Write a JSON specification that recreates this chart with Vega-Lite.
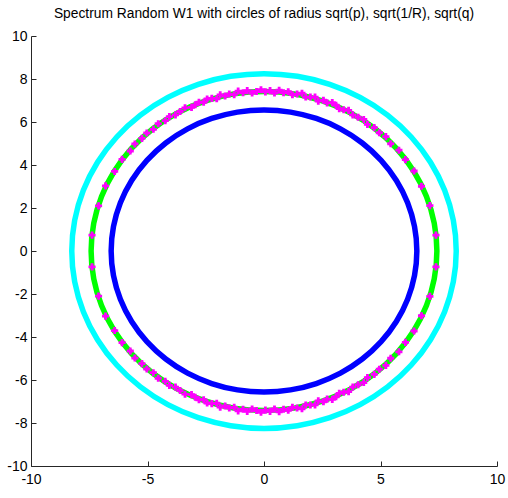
{
  "$schema": "https://vega.github.io/schema/vega-lite/v6.json",
  "width": 466,
  "height": 430,
  "autosize": "none",
  "padding": {"left": 31, "top": 36, "right": 11, "bottom": 32},
  "background": "white",
  "title": {
    "text": "Spectrum Random W1 with circles of radius sqrt(p), sqrt(1/R), sqrt(q)",
    "font": "Liberation Sans",
    "fontSize": 13.8,
    "fontWeight": "normal",
    "color": "black",
    "anchor": "middle",
    "offset": 8
  },
  "config": {
    "view": {"stroke": null},
    "axis": {
      "grid": false,
      "domainColor": "#262626",
      "tickColor": "#262626",
      "tickSize": -5,
      "labelFont": "Liberation Sans",
      "labelFontSize": 14,
      "labelColor": "black",
      "labelFlush": false,
      "labelOverlap": false,
      "labelExpr": "'' + datum.value",
      "title": null
    },
    "axisX": {"labelPadding": 11},
    "axisY": {"labelPadding": 9}
  },
  "datasets": {
    "circ": [
      {"c":"b","o":0,"x":6.56,"y":0},{"c":"b","o":1,"x":6.46,"y":1.139},{"c":"b","o":2,"x":6.164,"y":2.244},{"c":"b","o":3,"x":5.681,"y":3.28},{"c":"b","o":4,"x":5.025,"y":4.217},{"c":"b","o":5,"x":4.217,"y":5.025},{"c":"b","o":6,"x":3.28,"y":5.681},{"c":"b","o":7,"x":2.244,"y":6.164},{"c":"b","o":8,"x":1.139,"y":6.46},{"c":"b","o":9,"x":0,"y":6.56},
      {"c":"b","o":10,"x":-1.139,"y":6.46},{"c":"b","o":11,"x":-2.244,"y":6.164},{"c":"b","o":12,"x":-3.28,"y":5.681},{"c":"b","o":13,"x":-4.217,"y":5.025},{"c":"b","o":14,"x":-5.025,"y":4.217},{"c":"b","o":15,"x":-5.681,"y":3.28},{"c":"b","o":16,"x":-6.164,"y":2.244},{"c":"b","o":17,"x":-6.46,"y":1.139},{"c":"b","o":18,"x":-6.56,"y":0},
      {"c":"b","o":19,"x":-6.46,"y":-1.139},{"c":"b","o":20,"x":-6.164,"y":-2.244},{"c":"b","o":21,"x":-5.681,"y":-3.28},{"c":"b","o":22,"x":-5.025,"y":-4.217},{"c":"b","o":23,"x":-4.217,"y":-5.025},{"c":"b","o":24,"x":-3.28,"y":-5.681},{"c":"b","o":25,"x":-2.244,"y":-6.164},{"c":"b","o":26,"x":-1.139,"y":-6.46},{"c":"b","o":27,"x":0,"y":-6.56},
      {"c":"b","o":28,"x":1.139,"y":-6.46},{"c":"b","o":29,"x":2.244,"y":-6.164},{"c":"b","o":30,"x":3.28,"y":-5.681},{"c":"b","o":31,"x":4.217,"y":-5.025},{"c":"b","o":32,"x":5.025,"y":-4.217},{"c":"b","o":33,"x":5.681,"y":-3.28},{"c":"b","o":34,"x":6.164,"y":-2.244},{"c":"b","o":35,"x":6.46,"y":-1.139},

      {"c":"g","o":0,"x":7.42,"y":0},{"c":"g","o":1,"x":7.307,"y":1.288},{"c":"g","o":2,"x":6.973,"y":2.538},{"c":"g","o":3,"x":6.426,"y":3.71},{"c":"g","o":4,"x":5.684,"y":4.77},{"c":"g","o":5,"x":4.77,"y":5.684},{"c":"g","o":6,"x":3.71,"y":6.426},{"c":"g","o":7,"x":2.538,"y":6.973},{"c":"g","o":8,"x":1.288,"y":7.307},{"c":"g","o":9,"x":0,"y":7.42},
      {"c":"g","o":10,"x":-1.288,"y":7.307},{"c":"g","o":11,"x":-2.538,"y":6.973},{"c":"g","o":12,"x":-3.71,"y":6.426},{"c":"g","o":13,"x":-4.77,"y":5.684},{"c":"g","o":14,"x":-5.684,"y":4.77},{"c":"g","o":15,"x":-6.426,"y":3.71},{"c":"g","o":16,"x":-6.973,"y":2.538},{"c":"g","o":17,"x":-7.307,"y":1.288},{"c":"g","o":18,"x":-7.42,"y":0},
      {"c":"g","o":19,"x":-7.307,"y":-1.288},{"c":"g","o":20,"x":-6.973,"y":-2.538},{"c":"g","o":21,"x":-6.426,"y":-3.71},{"c":"g","o":22,"x":-5.684,"y":-4.77},{"c":"g","o":23,"x":-4.77,"y":-5.684},{"c":"g","o":24,"x":-3.71,"y":-6.426},{"c":"g","o":25,"x":-2.538,"y":-6.973},{"c":"g","o":26,"x":-1.288,"y":-7.307},{"c":"g","o":27,"x":0,"y":-7.42},
      {"c":"g","o":28,"x":1.288,"y":-7.307},{"c":"g","o":29,"x":2.538,"y":-6.973},{"c":"g","o":30,"x":3.71,"y":-6.426},{"c":"g","o":31,"x":4.77,"y":-5.684},{"c":"g","o":32,"x":5.684,"y":-4.77},{"c":"g","o":33,"x":6.426,"y":-3.71},{"c":"g","o":34,"x":6.973,"y":-2.538},{"c":"g","o":35,"x":7.307,"y":-1.288},

      {"c":"c","o":0,"x":8.25,"y":0},{"c":"c","o":1,"x":8.125,"y":1.432},{"c":"c","o":2,"x":7.753,"y":2.822},{"c":"c","o":3,"x":7.145,"y":4.125},{"c":"c","o":4,"x":6.32,"y":5.303},{"c":"c","o":5,"x":5.303,"y":6.32},{"c":"c","o":6,"x":4.125,"y":7.145},{"c":"c","o":7,"x":2.822,"y":7.753},{"c":"c","o":8,"x":1.432,"y":8.125},{"c":"c","o":9,"x":0,"y":8.25},
      {"c":"c","o":10,"x":-1.432,"y":8.125},{"c":"c","o":11,"x":-2.822,"y":7.753},{"c":"c","o":12,"x":-4.125,"y":7.145},{"c":"c","o":13,"x":-5.303,"y":6.32},{"c":"c","o":14,"x":-6.32,"y":5.303},{"c":"c","o":15,"x":-7.145,"y":4.125},{"c":"c","o":16,"x":-7.753,"y":2.822},{"c":"c","o":17,"x":-8.125,"y":1.432},{"c":"c","o":18,"x":-8.25,"y":0},
      {"c":"c","o":19,"x":-8.125,"y":-1.432},{"c":"c","o":20,"x":-7.753,"y":-2.822},{"c":"c","o":21,"x":-7.145,"y":-4.125},{"c":"c","o":22,"x":-6.32,"y":-5.303},{"c":"c","o":23,"x":-5.303,"y":-6.32},{"c":"c","o":24,"x":-4.125,"y":-7.145},{"c":"c","o":25,"x":-2.822,"y":-7.753},{"c":"c","o":26,"x":-1.432,"y":-8.125},{"c":"c","o":27,"x":0,"y":-8.25},
      {"c":"c","o":28,"x":1.432,"y":-8.125},{"c":"c","o":29,"x":2.822,"y":-7.753},{"c":"c","o":30,"x":4.125,"y":-7.145},{"c":"c","o":31,"x":5.303,"y":-6.32},{"c":"c","o":32,"x":6.32,"y":-5.303},{"c":"c","o":33,"x":7.145,"y":-4.125},{"c":"c","o":34,"x":7.753,"y":-2.822},{"c":"c","o":35,"x":8.125,"y":-1.432}
    ],
    "eig": [
      {"x":7.38,"y":0.74},{"x":7.12,"y":2.11},{"x":6.76,"y":3.01},{"x":6.44,"y":3.72},{"x":6.07,"y":4.25},{"x":5.79,"y":4.69},{"x":5.44,"y":4.99},{"x":5.23,"y":5.32},{"x":4.95,"y":5.5},{"x":4.73,"y":5.74},
      {"x":4.44,"y":5.89},{"x":4.28,"y":6.12},{"x":4.04,"y":6.22},{"x":3.81,"y":6.33},{"x":3.63,"y":6.54},{"x":3.42,"y":6.57},{"x":3.23,"y":6.62},{"x":3.09,"y":6.78},{"x":2.93,"y":6.9},{"x":2.71,"y":6.89},
      {"x":2.55,"y":7.01},{"x":2.33,"y":6.97},{"x":2.19,"y":7.16},{"x":1.99,"y":7.16},{"x":1.79,"y":7.16},{"x":1.63,"y":7.34},{"x":1.42,"y":7.3},{"x":1.22,"y":7.27},{"x":1.04,"y":7.41},{"x":0.84,"y":7.36},
      {"x":0.65,"y":7.48},{"x":0.45,"y":7.35},{"x":0.26,"y":7.46},{"x":0.06,"y":7.4},{"x":-0.13,"y":7.5},{"x":-0.32,"y":7.42},{"x":-0.51,"y":7.35},{"x":-0.72,"y":7.46},{"x":-0.9,"y":7.36},{"x":-1.11,"y":7.44},
      {"x":-1.28,"y":7.27},{"x":-1.49,"y":7.3},{"x":-1.67,"y":7.21},{"x":-1.88,"y":7.26},{"x":-2.03,"y":7.08},{"x":-2.24,"y":7.1},{"x":-2.44,"y":7.07},{"x":-2.59,"y":6.92},{"x":-2.79,"y":6.92},{"x":-2.95,"y":6.8},
      {"x":-3.11,"y":6.68},{"x":-3.39,"y":6.66},{"x":-3.6,"y":6.49},{"x":-3.8,"y":6.33},{"x":-4.06,"y":6.25},{"x":-4.24,"y":6.06},{"x":-4.54,"y":5.92},{"x":-4.75,"y":5.66},{"x":-5.03,"y":5.49},{"x":-5.24,"y":5.24},
      {"x":-5.54,"y":4.98},{"x":-5.74,"y":4.65},{"x":-6.09,"y":4.26},{"x":-6.41,"y":3.7},{"x":-6.8,"y":3.03},{"x":-7.1,"y":2.1},{"x":-7.38,"y":0.74},
      {"x":7.38,"y":-0.74},{"x":7.12,"y":-2.11},{"x":6.76,"y":-3.01},{"x":6.44,"y":-3.72},{"x":6.07,"y":-4.25},{"x":5.79,"y":-4.69},{"x":5.44,"y":-4.99},{"x":5.23,"y":-5.32},{"x":4.95,"y":-5.5},{"x":4.73,"y":-5.74},
      {"x":4.44,"y":-5.89},{"x":4.28,"y":-6.12},{"x":4.04,"y":-6.22},{"x":3.81,"y":-6.33},{"x":3.63,"y":-6.54},{"x":3.42,"y":-6.57},{"x":3.23,"y":-6.62},{"x":3.09,"y":-6.78},{"x":2.93,"y":-6.9},{"x":2.71,"y":-6.89},
      {"x":2.55,"y":-7.01},{"x":2.33,"y":-6.97},{"x":2.19,"y":-7.16},{"x":1.99,"y":-7.16},{"x":1.79,"y":-7.16},{"x":1.63,"y":-7.34},{"x":1.42,"y":-7.3},{"x":1.22,"y":-7.27},{"x":1.04,"y":-7.41},{"x":0.84,"y":-7.36},
      {"x":0.65,"y":-7.48},{"x":0.45,"y":-7.35},{"x":0.26,"y":-7.46},{"x":0.06,"y":-7.4},{"x":-0.13,"y":-7.5},{"x":-0.32,"y":-7.42},{"x":-0.51,"y":-7.35},{"x":-0.72,"y":-7.46},{"x":-0.9,"y":-7.36},{"x":-1.11,"y":-7.44},
      {"x":-1.28,"y":-7.27},{"x":-1.49,"y":-7.3},{"x":-1.67,"y":-7.21},{"x":-1.88,"y":-7.26},{"x":-2.03,"y":-7.08},{"x":-2.24,"y":-7.1},{"x":-2.44,"y":-7.07},{"x":-2.59,"y":-6.92},{"x":-2.79,"y":-6.92},{"x":-2.95,"y":-6.8},
      {"x":-3.11,"y":-6.68},{"x":-3.39,"y":-6.66},{"x":-3.6,"y":-6.49},{"x":-3.8,"y":-6.33},{"x":-4.06,"y":-6.25},{"x":-4.24,"y":-6.06},{"x":-4.54,"y":-5.92},{"x":-4.75,"y":-5.66},{"x":-5.03,"y":-5.49},{"x":-5.24,"y":-5.24},
      {"x":-5.54,"y":-4.98},{"x":-5.74,"y":-4.65},{"x":-6.09,"y":-4.26},{"x":-6.41,"y":-3.7},{"x":-6.8,"y":-3.03},{"x":-7.1,"y":-2.1},{"x":-7.38,"y":-0.74}
    ]
  },
  "layer": [
    {
      "data": {"name": "circ"},
      "mark": {"type": "line", "interpolate": "cardinal-closed", "strokeWidth": 5.5},
      "encoding": {
        "x": {"field": "x", "type": "quantitative", "scale": {"domain": [-10, 10], "nice": false, "zero": false}, "axis": {"values": [-10, -5, 0, 5, 10]}},
        "y": {"field": "y", "type": "quantitative", "scale": {"domain": [-10, 10], "nice": false, "zero": false}, "axis": {"values": [-10, -8, -6, -4, -2, 0, 2, 4, 6, 8, 10]}},
        "detail": {"field": "c"},
        "order": {"field": "o", "type": "quantitative"},
        "color": {"field": "c", "type": "nominal", "scale": {"domain": ["b", "g", "c"], "range": ["#0000FF", "#00FF00", "#00FFFF"]}, "legend": null}
      }
    },
    {
      "data": {"name": "eig"},
      "mark": {"type": "point", "shape": "cross", "filled": true, "size": 50, "color": "#FF00FF", "opacity": 1},
      "encoding": {
        "x": {"field": "x", "type": "quantitative"},
        "y": {"field": "y", "type": "quantitative"}
      }
    }
  ]
}
